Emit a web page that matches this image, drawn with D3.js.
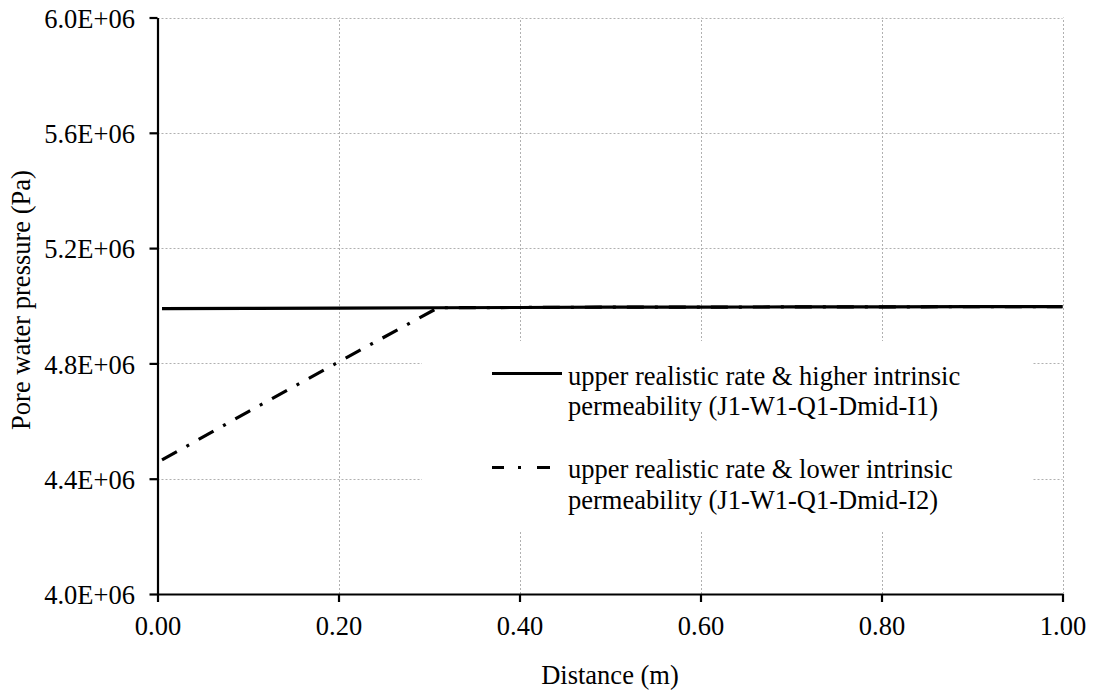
<!DOCTYPE html>
<html>
<head>
<meta charset="utf-8">
<script src="https://cdn.jsdelivr.net/npm/d3@7"></script>
<style>
  html, body { margin: 0; padding: 0; background: #fff; }
  svg { display: block; }
  text { font-family: "Liberation Serif", "Times New Roman", serif; fill: #000; }
</style>
</head>
<body>
<svg id="chart" width="1094" height="695"></svg>
<script>
// ---- data ----
const distance = [0.005, 0.1, 0.2, 0.31, 0.4, 0.5, 0.6, 0.7, 0.8, 0.9, 1.0];
const seriesHigher = [4.990e6, 4.991e6, 4.992e6, 4.993e6, 4.994e6, 4.995e6, 4.995e6, 4.996e6, 4.996e6, 4.997e6, 4.997e6];
const seriesLower  = [4.465e6, 4.632e6, 4.805e6, 4.993e6, 4.994e6, 4.995e6, 4.995e6, 4.996e6, 4.996e6, 4.997e6, 4.997e6];
const xTicks = [0, 0.2, 0.4, 0.6, 0.8, 1.0];
const yTicks = [4.0e6, 4.4e6, 4.8e6, 5.2e6, 5.6e6, 6.0e6];
const legendHigher = ["upper realistic rate & higher intrinsic", "permeability (J1-W1-Q1-Dmid-I1)"];
const legendLower = ["upper realistic rate & lower intrinsic", "permeability (J1-W1-Q1-Dmid-I2)"];
const xTitle = "Distance (m)";
const yTitle = "Pore water pressure (Pa)";

// ---- layout ----
const FS = 26.5;
const svg = d3.select("#chart");
const x = d3.scaleLinear().domain([0, 1]).range([157.5, 1062.5]);
const y = d3.scaleLinear().domain([4.0e6, 6.0e6]).range([594, 17.5]);

// gridlines
const grid = svg.append("g").attr("stroke", "#b0b0b0").attr("stroke-width", 1).attr("stroke-dasharray", "2,2");
grid.selectAll("line.v").data(xTicks.filter(d => d > 0)).enter().append("line")
  .attr("x1", d => Math.round(x(d)) + 0.5).attr("x2", d => Math.round(x(d)) + 0.5)
  .attr("y1", y(4.0e6)).attr("y2", y(6.0e6));
grid.selectAll("line.h").data(yTicks.filter(d => d > 4.0e6)).enter().append("line")
  .attr("x1", x(0)).attr("x2", x(1))
  .attr("y1", d => Math.round(y(d)) + 0.5).attr("y2", d => Math.round(y(d)) + 0.5);

// data lines
const pts = s => distance.map((d, i) => [d, s[i]]);
const line = d3.line().x(d => x(d[0])).y(d => y(d[1]));
svg.append("path").datum(pts(seriesHigher)).attr("d", line)
  .attr("fill", "none").attr("stroke", "#000").attr("stroke-width", 3.2);
svg.append("path").datum(pts(seriesLower)).attr("d", line)
  .attr("fill", "none").attr("stroke", "#000").attr("stroke-width", 3.2)
  .attr("stroke-dasharray", "17,11,3,11");

// axes
const fmtY = v => (v / 1e6).toFixed(1) + "E+06";
const yAxis = svg.append("g").attr("transform", `translate(${x(0)},0)`)
  .call(d3.axisLeft(y).tickValues(yTicks).tickFormat(fmtY).tickSize(8).tickSizeOuter(0).tickPadding(14.5));
const xAxis = svg.append("g").attr("transform", `translate(0,${y(4.0e6)})`)
  .call(d3.axisBottom(x).tickValues(xTicks).tickFormat(d3.format(".2f")).tickSize(8).tickSizeOuter(0));
[yAxis, xAxis].forEach(g => {
  g.select(".domain").attr("stroke", "#000").attr("stroke-width", 2.2);
  g.selectAll(".tick line").attr("stroke", "#000").attr("stroke-width", 2.2);
  g.selectAll(".tick text").style("font-size", FS + "px").style("font-family", "'Liberation Serif', serif").attr("fill", "#000");
});
yAxis.selectAll(".tick text").attr("dy", 9.7);
xAxis.selectAll(".tick text").attr("y", 41).attr("dy", 0);

// axis titles
svg.append("text").attr("x", x(0.5)).attr("y", 684).attr("text-anchor", "middle")
  .style("font-size", FS + "px").text(xTitle);
svg.append("text").attr("transform", "translate(29.5,300) rotate(-90)").attr("text-anchor", "middle")
  .style("font-size", FS + "px").text(yTitle);

// legend
const lg = svg.append("g");
lg.append("rect").attr("x", 422).attr("y", 341).attr("width", 611).attr("height", 190).attr("fill", "#fff");
lg.append("line").attr("x1", 492).attr("x2", 562).attr("y1", 373.5).attr("y2", 373.5)
  .attr("stroke", "#000").attr("stroke-width", 3.2);
lg.append("line").attr("x1", 492).attr("x2", 562).attr("y1", 467.5).attr("y2", 467.5)
  .attr("stroke", "#000").attr("stroke-width", 3.2).attr("stroke-dasharray", "12,14,3,16,13,20");
[[legendHigher, 384.5], [legendLower, 478]].forEach(([lines, base]) => {
  lines.forEach((t, i) => {
    lg.append("text").attr("x", 568).attr("y", base + i * 30.5)
      .style("font-size", FS + "px").text(t);
  });
});
</script>
</body>
</html>
